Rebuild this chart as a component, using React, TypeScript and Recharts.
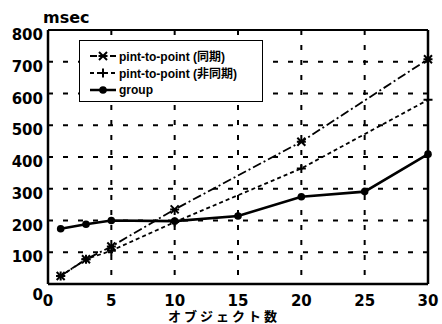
import { LineChart, Line, XAxis, YAxis, CartesianGrid, ReferenceLine, Legend } from 'recharts';

const objects = [1, 3, 5, 10, 15, 20, 25, 30];
const syncMs = [25, 78, 118, 235, null, 448, null, 708];
const asyncMs = [25, 78, 105, 195, null, 364, null, 580];
const groupMs = [174, 188, 200, 198, 214, 275, 291, 409];

const xTicks = [0, 5, 10, 15, 20, 25, 30];
const yTicks = [0, 100, 200, 300, 400, 500, 600, 700, 800];

const data = objects.map((n, i) => ({
  n,
  sync: syncMs[i],
  async: asyncMs[i],
  group: groupMs[i],
}));

const tickFont = "'DejaVu Sans', sans-serif";
const textFont = "'Liberation Sans', 'Noto Sans CJK JP', sans-serif";

const StarDot = ({ cx, cy }: any) => {
  if (cx == null || cy == null) return null;
  return (
    <path
      d={`M${cx - 4},${cy - 4}L${cx + 4},${cy + 4}M${cx - 4},${cy + 4}L${cx + 4},${cy - 4}M${cx - 4.5},${cy}L${cx + 4.5},${cy}`}
      stroke="#000"
      strokeWidth={2}
    />
  );
};

const PlusDot = ({ cx, cy }: any) => {
  if (cx == null || cy == null) return null;
  return (
    <path
      d={`M${cx - 4.5},${cy}L${cx + 4.5},${cy}M${cx},${cy - 4.5}L${cx},${cy + 4.5}`}
      stroke="#000"
      strokeWidth={2}
    />
  );
};

const CircleDot = ({ cx, cy }: any) => {
  if (cx == null || cy == null) return null;
  return <circle cx={cx} cy={cy} r={3.8} fill="#000" />;
};

const YTick = ({ x, y, payload }: any) => (
  <text
    x={x}
    y={y}
    dy={payload.value === 0 ? 16 : 10}
    textAnchor="end"
    fontFamily={tickFont}
    fontWeight="bold"
    fontSize={15}
    fill="#000"
  >
    {payload.value}
  </text>
);

const XTick = ({ x, y, payload }: any) => (
  <text
    x={x}
    y={y}
    dy={20}
    textAnchor="middle"
    fontFamily={tickFont}
    fontWeight="bold"
    fontSize={15}
    fill="#000"
  >
    {payload.value}
  </text>
);

const XLabel = ({ viewBox }: any) => (
  <text
    x={viewBox.x + viewBox.width / 2 - 14}
    y={viewBox.y + 36.5}
    textAnchor="middle"
    fontFamily={textFont}
    fontWeight="bold"
    fontSize={13}
    letterSpacing={3}
    fill="#000"
  >
    オブジェクト数
  </text>
);

const YLabel = ({ viewBox }: any) => (
  <text
    x={viewBox.x + 35}
    y={viewBox.y - 7}
    fontFamily={tickFont}
    fontWeight="bold"
    fontSize={16}
    fill="#000"
  >
    msec
  </text>
);

const legendRows = [
  { name: 'pint-to-point (同期)', dash: '7 3', marker: 'star' },
  { name: 'pint-to-point (非同期)', dash: '4 3', marker: 'plus' },
  { name: 'group', dash: undefined, marker: 'circle' },
];

const LegendBox = () => (
  <div
    style={{
      border: '1.5px solid #000',
      background: '#fff',
      height: 62,
      boxSizing: 'border-box',
      padding: '6px 0 0 10px',
    }}
  >
    {legendRows.map((r) => (
      <div key={r.name} style={{ display: 'flex', alignItems: 'center', height: 17 }}>
        <svg width={26} height={12}>
          <line x1={0} y1={6} x2={26} y2={6} stroke="#000" strokeWidth={r.marker === 'circle' ? 2.5 : 1.8} strokeDasharray={r.dash} />
          {r.marker === 'star' && <StarDot cx={13} cy={6} />}
          {r.marker === 'plus' && <PlusDot cx={13} cy={6} />}
          {r.marker === 'circle' && <CircleDot cx={13} cy={6} />}
        </svg>
        <span style={{ fontFamily: textFont, fontWeight: 'bold', fontSize: 12, marginLeft: 3, color: '#000', whiteSpace: 'nowrap' }}>
          {r.name}
        </span>
      </div>
    ))}
  </div>
);

export default function App() {
  return (
    <div style={{ position: 'absolute', left: 0, top: 0, background: '#fff' }}>
      <LineChart width={442} height={324} data={data} margin={{ top: 30, right: 14, bottom: 0, left: 8 }}>
        <CartesianGrid stroke="#000" strokeWidth={2} strokeDasharray="5 10" />
        <XAxis
          dataKey="n"
          type="number"
          domain={[0, 30]}
          ticks={xTicks}
          height={40}
          tickSize={0}
          tickLine={false}
          tick={<XTick />}
          axisLine={{ stroke: '#000', strokeWidth: 2.5 }}
          label={<XLabel />}
        />
        <YAxis
          domain={[0, 800]}
          ticks={yTicks}
          width={40}
          tickSize={0}
          tickMargin={5}
          tickLine={false}
          tick={<YTick />}
          axisLine={{ stroke: '#000', strokeWidth: 2.5 }}
          label={<YLabel />}
        />
        <ReferenceLine y={800} stroke="#000" strokeWidth={2} />
        <ReferenceLine x={30} stroke="#000" strokeWidth={2.5} />
        <Legend
          layout="vertical"
          align="center"
          verticalAlign="middle"
          wrapperStyle={{ left: 79, top: 40, width: 184, height: 62 }}
          content={<LegendBox />}
        />
        <Line
          dataKey="sync"
          stroke="#000"
          strokeWidth={1.8}
          strokeDasharray="9 3 2 3"
          dot={<StarDot />}
          connectNulls
          isAnimationActive={false}
        />
        <Line
          dataKey="async"
          stroke="#000"
          strokeWidth={1.8}
          strokeDasharray="4 3"
          dot={<PlusDot />}
          connectNulls
          isAnimationActive={false}
        />
        <Line
          dataKey="group"
          stroke="#000"
          strokeWidth={2.6}
          dot={<CircleDot />}
          isAnimationActive={false}
        />
      </LineChart>
    </div>
  );
}
